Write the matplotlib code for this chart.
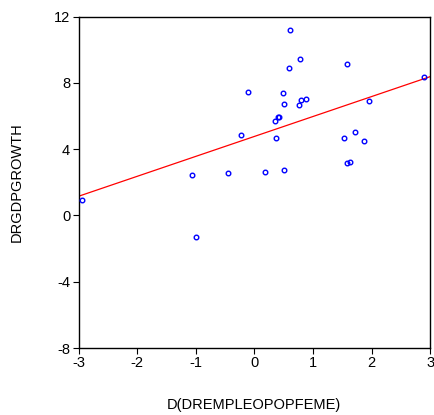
import numpy as np
import matplotlib
matplotlib.use("Agg")
import matplotlib.pyplot as plt

plt.rcParams['font.family'] = ['Liberation Sans', 'DejaVu Sans']
plt.rcParams['axes.unicode_minus'] = False

# scatter data
x = [0.61, 0.785, 0.60, 1.587, 2.896, -0.113, 0.49, 0.51, 0.797, 0.888,
     0.768, 1.963, 0.42, 0.41, 0.35, 1.718, -0.232, 0.37, 1.525, 1.867,
     -1.058, -0.449, 0.183, 0.512, 1.577, 1.64, -2.94, -1.0]
y = [11.22, 9.43, 8.89, 9.16, 8.34, 7.44, 7.38, 6.73, 6.99, 7.05,
     6.65, 6.93, 5.96, 5.93, 5.70, 5.06, 4.88, 4.66, 4.66, 4.50,
     2.46, 2.59, 2.61, 2.73, 3.15, 3.21, 0.96, -1.31]

# fitted line as drawn in the picture
fit_x = [-3, 3]
fit_y = [1.16, 8.38]

xticks = [-3, -2, -1, 0, 1, 2, 3]
yticks = [-8, -4, 0, 4, 8, 12]

fig = plt.figure(figsize=(4.34, 4.15), dpi=100)
ax = fig.add_axes([0.181, 0.1614, 0.81, 0.7984])

ax.plot(x, y, 'o', mfc='none', mec='#0000ff', ms=3.3, mew=1.0, zorder=3)
ax.plot(fit_x, fit_y, '-', color='#ff0000', lw=0.9, zorder=2)

ax.set_xlim(-3, 3)
ax.set_ylim(-8, 12)
ax.set_xticks(xticks)
ax.set_yticks(yticks)
ax.tick_params(direction='out', length=4, width=0.8, labelsize=10.5, pad=2)
for s in ax.spines.values():
    s.set_linewidth(1.0)

ax.set_xlabel('D(DREMPLEOPOPFEME)', fontsize=10.5, labelpad=20)
ax.set_ylabel('DRGDPGROWTH', fontsize=10.5, labelpad=22)

fig.savefig('out.png', dpi=100)
